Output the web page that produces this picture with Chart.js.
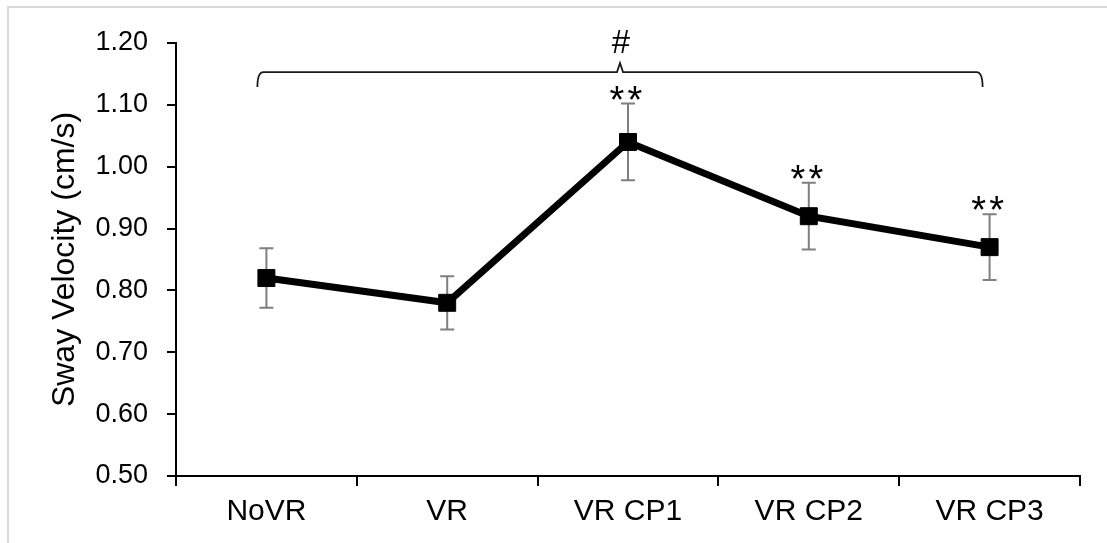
<!DOCTYPE html>
<html><head><meta charset="utf-8">
<script src="https://cdn.jsdelivr.net/npm/chart.js@4.4.0/dist/chart.umd.min.js"></script>
<style>
html,body{margin:0;padding:0;background:#fff;}
#wrap{position:relative;width:1107px;height:543px;overflow:hidden;}
#frame{position:absolute;left:7px;top:6px;width:1110px;height:536px;border-top:2px solid #d9d9d9;border-left:2px solid #d9d9d9;pointer-events:none;}
canvas{display:block;}
</style></head><body>
<div id="wrap"><canvas id="c" width="1107" height="543"></canvas><div id="frame"></div></div>
<script>
const categories = ['NoVR', 'VR', 'VR CP1', 'VR CP2', 'VR CP3'];
const swayMeans = [0.82, 0.78, 1.04, 0.92, 0.87];
const swayErrors = [0.048, 0.043, 0.062, 0.054, 0.053];
const yTicks = [0.50, 0.60, 0.70, 0.80, 0.90, 1.00, 1.10, 1.20];
const sigMarks = ['', '', '**', '**', '**'];
const bracketFrom = 0, bracketTo = 4, bracketLabel = '#', bracketLevel = 1.153;

const FONT = "'Liberation Sans', Arial, sans-serif";

const errorBars = {
  id: 'errorBars',
  beforeDatasetsDraw(chart) {
    const ctx = chart.ctx, y = chart.scales.y;
    const meta = chart.getDatasetMeta(0);
    ctx.save();
    ctx.strokeStyle = '#7f7f7f';
    ctx.lineWidth = 2;
    meta.data.forEach((pt, i) => {
      const top = y.getPixelForValue(swayMeans[i] + swayErrors[i]);
      const bot = y.getPixelForValue(swayMeans[i] - swayErrors[i]);
      const x = pt.x, cw = 7;
      ctx.beginPath();
      ctx.moveTo(x, top); ctx.lineTo(x, bot);
      ctx.moveTo(x - cw, top); ctx.lineTo(x + cw, top);
      ctx.moveTo(x - cw, bot); ctx.lineTo(x + cw, bot);
      ctx.stroke();
    });
    ctx.restore();
  }
};

const annotations = {
  id: 'annotations',
  afterDatasetsDraw(chart) {
    const ctx = chart.ctx, y = chart.scales.y;
    const meta = chart.getDatasetMeta(0);
    ctx.save();
    ctx.fillStyle = '#000';
    ctx.textAlign = 'center';
    ctx.textBaseline = 'alphabetic';
    ctx.font = '38px ' + FONT;
    meta.data.forEach((pt, i) => {
      if (!sigMarks[i]) return;
      const top = y.getPixelForValue(swayMeans[i] + swayErrors[i]);
      const chars = sigMarks[i].split('');
      const step = 18;
      chars.forEach((ch, k) => {
        const dx = (k - (chars.length - 1) / 2) * step;
        ctx.fillText(ch, pt.x - 2 + dx, top + 9);
      });
    });
    // bracket
    const x0 = meta.data[bracketFrom].x - 9;
    const x1 = meta.data[bracketTo].x - 7;
    const xc = (x0 + x1) / 2;
    const yl = y.getPixelForValue(bracketLevel);
    ctx.strokeStyle = '#1a1a1a';
    ctx.lineWidth = 1.8;
    ctx.beginPath();
    ctx.moveTo(x0, yl + 15);
    ctx.quadraticCurveTo(x0, yl, x0 + 6, yl);
    ctx.lineTo(xc - 3, yl);
    ctx.lineTo(xc, yl - 9);
    ctx.lineTo(xc + 3, yl);
    ctx.lineTo(x1 - 6, yl);
    ctx.quadraticCurveTo(x1, yl, x1, yl + 15);
    ctx.stroke();
    ctx.font = '33px ' + FONT;
    ctx.textBaseline = 'middle';
    ctx.fillText(bracketLabel, xc + 1, yl - 28);
    ctx.restore();
  }
};

new Chart(document.getElementById('c'), {
  type: 'line',
  data: {
    labels: categories,
    datasets: [{
      data: swayMeans,
      borderColor: '#000',
      backgroundColor: '#000',
      borderWidth: 7,
      pointStyle: 'rect',
      pointRadius: 12,
      pointBorderWidth: 1,
      pointBackgroundColor: '#000',
      pointBorderColor: '#000',
      tension: 0,
      clip: false
    }]
  },
  options: {
    responsive: false,
    animation: false,
    devicePixelRatio: 1,
    layout: { padding: { left: 0, right: 27, top: 43, bottom: 0 } },
    plugins: { legend: { display: false }, tooltip: { enabled: false } },
    scales: {
      x: {
        type: 'category',
        offset: true,
        grid: { display: true, offset: true, drawOnChartArea: false, drawTicks: true, tickLength: 10, color: '#000', lineWidth: 2 },
        border: { display: true, color: '#000', width: 2 },
        ticks: { color: '#000', font: { family: FONT, size: 30 }, padding: 8, maxRotation: 0, autoSkip: false },
        afterFit(s) { s.height = 67; }
      },
      y: {
        min: 0.5, max: 1.2,
        afterBuildTicks(s) { s.ticks = yTicks.map(v => ({ value: v })); },
        grid: { display: true, drawOnChartArea: false, drawTicks: true, tickLength: 9, color: '#000', lineWidth: 2 },
        border: { display: true, color: '#000', width: 2 },
        ticks: { color: '#000', font: { family: FONT, size: 27 }, padding: 19, callback: v => Number(v).toFixed(2) },
        title: { display: true, text: 'Sway Velocity (cm/s)', color: '#000', font: { family: FONT, size: 32 }, padding: { top: 46, bottom: 0 } },
        afterFit(s) { s.width = 176; }
      }
    }
  },
  plugins: [errorBars, annotations]
});
</script>
</body></html>
